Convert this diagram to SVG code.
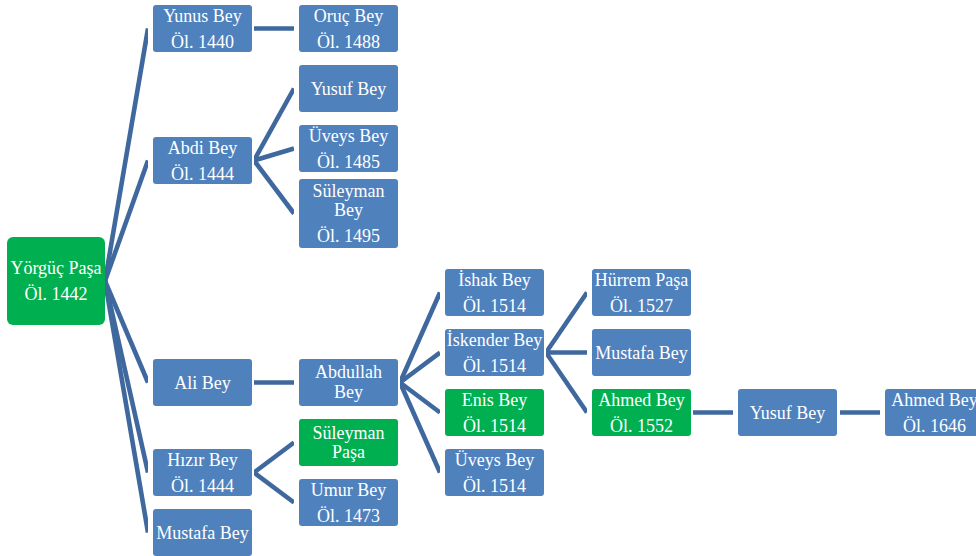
<svg xmlns="http://www.w3.org/2000/svg" width="976" height="556" viewBox="0 0 976 556">
<style>
.b{fill:#4f81bd}
.g{fill:#00b050}
.t{font-family:"Liberation Serif","Times New Roman",serif;font-size:18px;fill:#fff;text-anchor:middle}
.c line{stroke:#3f689e;stroke-width:4.6;stroke-linecap:butt;fill:none}
</style>
<defs>
<clipPath id="gaps">
<rect x="105" y="0" width="43" height="556"/>
<rect x="254" y="0" width="40" height="556"/>
<rect x="400" y="0" width="40" height="556"/>
<rect x="546" y="0" width="41" height="556"/>
<rect x="693" y="0" width="40" height="556"/>
<rect x="840" y="0" width="40" height="556"/>
</clipPath>
</defs>
<rect width="976" height="556" fill="#fff"/>
<g id="connectors" class="c" clip-path="url(#gaps)">
<line x1="105" y1="281" x2="148" y2="28.5"/>
<line x1="105" y1="281" x2="148" y2="160.5"/>
<line x1="105" y1="281" x2="148" y2="382.5"/>
<line x1="105" y1="281" x2="148" y2="472.5"/>
<line x1="105" y1="281" x2="148" y2="532.5"/>
<line x1="254" y1="28.5" x2="294" y2="28.5"/>
<line x1="254" y1="160.5" x2="294" y2="88.5"/>
<line x1="254" y1="160.5" x2="294" y2="148.5"/>
<line x1="254" y1="160.5" x2="294" y2="213.5"/>
<line x1="254" y1="382.5" x2="294" y2="382.5"/>
<line x1="254" y1="472.5" x2="294" y2="442.5"/>
<line x1="254" y1="472.5" x2="294" y2="502.5"/>
<line x1="400" y1="382.5" x2="440" y2="292.5"/>
<line x1="400" y1="382.5" x2="440" y2="352.5"/>
<line x1="400" y1="382.5" x2="440" y2="412.5"/>
<line x1="400" y1="382.5" x2="440" y2="472.5"/>
<line x1="546" y1="352.5" x2="587" y2="292.5"/>
<line x1="546" y1="352.5" x2="587" y2="352.5"/>
<line x1="546" y1="352.5" x2="587" y2="412.5"/>
<line x1="693" y1="412.5" x2="733" y2="412.5"/>
<line x1="840" y1="412.5" x2="880" y2="412.5"/>
</g>
<g id="yorguc"><rect class="g" x="7" y="237" width="98" height="88" rx="6"/><text class="t" x="56" y="274">Yörgüç Paşa</text><text class="t" x="56" y="300">Öl. 1442</text></g>
<g id="yunus"><rect class="b" x="153" y="5" width="99" height="47" rx="3"/><text class="t" x="202.5" y="22">Yunus Bey</text><text class="t" x="202.5" y="48">Öl. 1440</text></g>
<g id="abdi"><rect class="b" x="153" y="137" width="99" height="47" rx="3"/><text class="t" x="202.5" y="154">Abdi Bey</text><text class="t" x="202.5" y="180">Öl. 1444</text></g>
<g id="ali"><rect class="b" x="153" y="359" width="99" height="47" rx="3"/><text class="t" x="202.5" y="389">Ali Bey</text></g>
<g id="hizir"><rect class="b" x="153" y="449" width="99" height="47" rx="3"/><text class="t" x="202.5" y="466">Hızır Bey</text><text class="t" x="202.5" y="492">Öl. 1444</text></g>
<g id="mustafa1"><rect class="b" x="153" y="509" width="99" height="47" rx="3"/><text class="t" x="202.5" y="539">Mustafa Bey</text></g>
<g id="oruc"><rect class="b" x="299" y="5" width="99" height="47" rx="3"/><text class="t" x="348.5" y="22">Oruç Bey</text><text class="t" x="348.5" y="48">Öl. 1488</text></g>
<g id="yusuf1"><rect class="b" x="299" y="65" width="99" height="47" rx="3"/><text class="t" x="348.5" y="95">Yusuf Bey</text></g>
<g id="uveys1"><rect class="b" x="299" y="125" width="99" height="47" rx="3"/><text class="t" x="348.5" y="142">Üveys Bey</text><text class="t" x="348.5" y="168">Öl. 1485</text></g>
<g id="suleyman1"><rect class="b" x="299" y="179" width="99" height="69" rx="3"/><text class="t" x="348.5" y="197">Süleyman</text><text class="t" x="348.5" y="216">Bey</text><text class="t" x="348.5" y="242">Öl. 1495</text></g>
<g id="abdullah"><rect class="b" x="299" y="359" width="99" height="47" rx="3"/><text class="t" x="348.5" y="378">Abdullah</text><text class="t" x="348.5" y="398">Bey</text></g>
<g id="suleymanpasa"><rect class="g" x="299" y="419" width="99" height="47" rx="3"/><text class="t" x="348.5" y="439">Süleyman</text><text class="t" x="348.5" y="458">Paşa</text></g>
<g id="umur"><rect class="b" x="299" y="479" width="99" height="47" rx="3"/><text class="t" x="348.5" y="496">Umur Bey</text><text class="t" x="348.5" y="522">Öl. 1473</text></g>
<g id="ishak"><rect class="b" x="445" y="269" width="99" height="47" rx="3"/><text class="t" x="494.5" y="286">İshak Bey</text><text class="t" x="494.5" y="312">Öl. 1514</text></g>
<g id="iskender"><rect class="b" x="445" y="329" width="99" height="47" rx="3"/><text class="t" x="494.5" y="346">İskender Bey</text><text class="t" x="494.5" y="372">Öl. 1514</text></g>
<g id="enis"><rect class="g" x="445" y="389" width="99" height="47" rx="3"/><text class="t" x="494.5" y="406">Enis Bey</text><text class="t" x="494.5" y="432">Öl. 1514</text></g>
<g id="uveys2"><rect class="b" x="445" y="449" width="99" height="47" rx="3"/><text class="t" x="494.5" y="466">Üveys Bey</text><text class="t" x="494.5" y="492">Öl. 1514</text></g>
<g id="hurrem"><rect class="b" x="592" y="269" width="99" height="47" rx="3"/><text class="t" x="641.5" y="286">Hürrem Paşa</text><text class="t" x="641.5" y="312">Öl. 1527</text></g>
<g id="mustafa2"><rect class="b" x="592" y="329" width="99" height="47" rx="3"/><text class="t" x="641.5" y="359">Mustafa Bey</text></g>
<g id="ahmed1"><rect class="g" x="592" y="389" width="99" height="47" rx="3"/><text class="t" x="641.5" y="406">Ahmed Bey</text><text class="t" x="641.5" y="432">Öl. 1552</text></g>
<g id="yusuf2"><rect class="b" x="738" y="389" width="99" height="47" rx="3"/><text class="t" x="787.5" y="419">Yusuf Bey</text></g>
<g id="ahmed2"><rect class="b" x="885" y="389" width="99" height="47" rx="3"/><text class="t" x="934.5" y="406">Ahmed Bey</text><text class="t" x="934.5" y="432">Öl. 1646</text></g>
</svg>
